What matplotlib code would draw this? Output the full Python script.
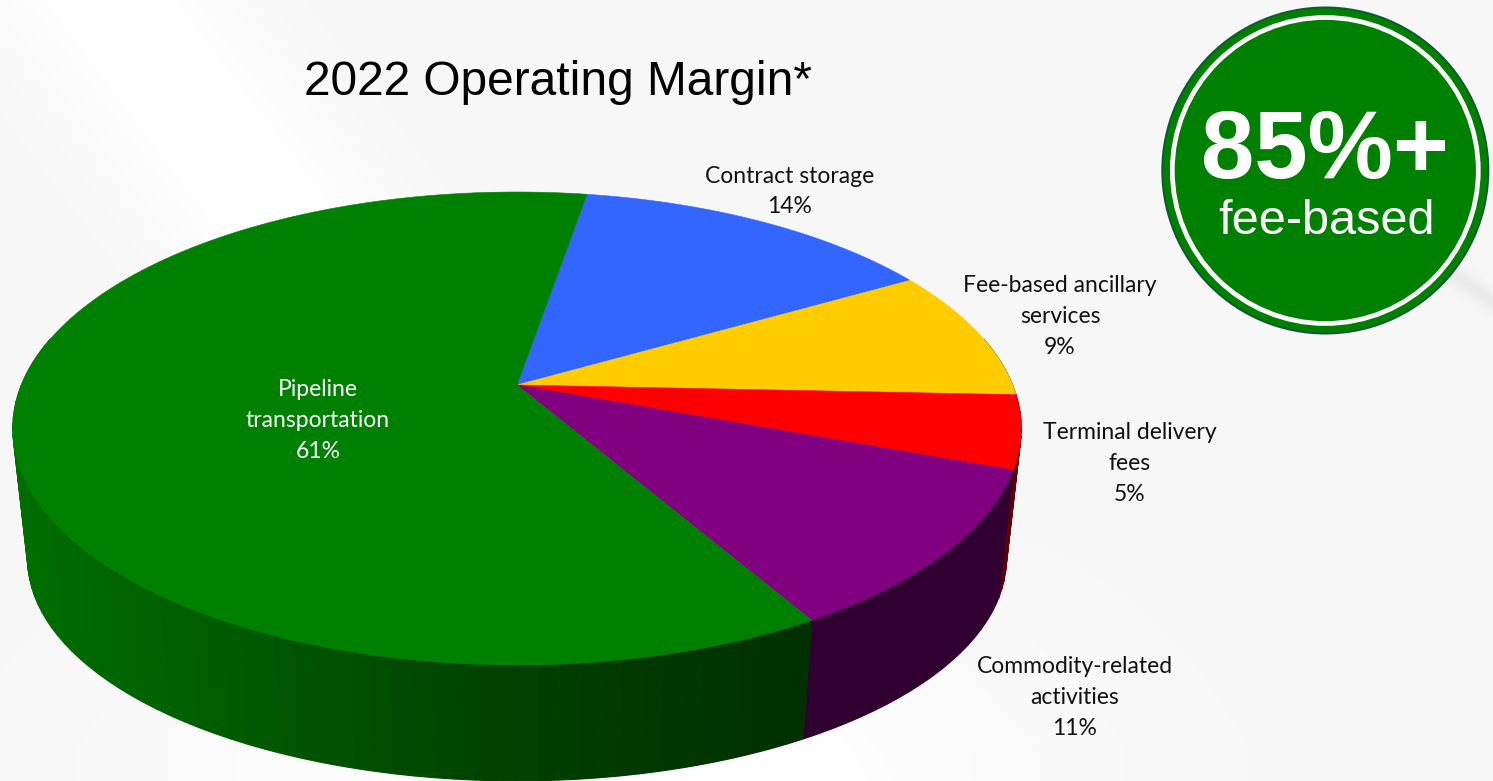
import numpy as np
import matplotlib
matplotlib.use('Agg')
import matplotlib.pyplot as plt
from matplotlib.patches import Circle, Polygon

# slice values, clockwise from the pipeline/storage edge
names = ["Contract storage", "Fee-based ancillary\nservices", "Terminal delivery\nfees",
         "Commodity-related\nactivities", "Pipeline\ntransportation"]
values = [14, 9, 5, 11, 61]
top_colors = ["#3366FF", "#FFCC00", "#FF0000", "#800080", "#008000"]
label_xy = [(790, 191.5), (1060, 316.5), (1130, 463.5), (1075, 697.5), (318, 420.5)]
label_colors = ["#111111", "#111111", "#111111", "#111111", "white"]

title = "2022 Operating Margin*"
badge_big = "85%+"
badge_small = "fee-based"

start_angle = 9.6
persp = 0.184  # perspective of the disc


# project unit disc angle (deg clockwise from the far side) to pixels
def ring(ang, cy, a, b):
    t = np.radians(ang)
    u, v = np.sin(t), np.cos(t)
    w = 1 + persp * v
    return 517 + a * u / w, cy - b * v / w


def top_ring(ang):
    return ring(ang, 385, 495.6, 228.5)


def low_ring(ang):
    return ring(ang, 518, 481, 214.5)


fig = plt.figure(figsize=(14.93, 7.81), dpi=100)
ax = fig.add_axes([0, 0, 1, 1])
ax.set_xlim(0, 1493)
ax.set_ylim(781, 0)
ax.axis('off')

# pale background with soft white bands
yy, xx = np.mgrid[0:781:4, 0:1493:4]
bg = 0.965 + 0.035 * np.exp(-((xx - 0.75 * yy - 110) / 130.0) ** 2)
bg = bg + 0.03 * np.clip((yy - 450) / 300.0, 0, 1) * np.exp(-((xx - 600) / 450.0) ** 2)
bg = bg - 0.05 * np.exp(-((yy - 0.7 * xx + 745) / 12.0) ** 2) * (xx > 1440)
bg = np.clip(bg, 0, 1)
ax.imshow(bg, cmap='gray', vmin=0, vmax=1, extent=[0, 1493, 781, 0], aspect='auto',
          interpolation='bilinear', zorder=0)

edges = start_angle + np.concatenate([[0], np.cumsum(values)]) * 3.6

# side wall, far pieces first
quads = []
for i in range(len(values)):
    angs = np.arange(edges[i], edges[i + 1], 2.0)
    angs = np.append(angs, edges[i + 1])
    for a0, a1 in zip(angs[:-1], angs[1:]):
        if np.cos(np.radians(a0)) > 0.2 and np.cos(np.radians(a1)) > 0.2:
            continue
        quads.append((i, a0, a1))
quads.sort(key=lambda q: -np.cos(np.radians((q[1] + q[2]) / 2)))

for i, a0, a1 in quads:
    mid = np.linspace(a0, a1, 8)
    xt, yt = top_ring(mid)
    xb, yb = low_ring(mid[::-1])
    shade = np.interp(xt.mean(), [15, 300, 500, 800], [0.86, 0.66, 0.51, 0.375])
    c = np.array(matplotlib.colors.to_rgb(top_colors[i])) * shade
    pts = list(zip(xt, yt)) + list(zip(xb, yb))
    ax.add_patch(Polygon(pts, closed=True, facecolor=c, edgecolor=c, lw=0.8, zorder=2))

# top face
for i in range(len(values)):
    angs = np.linspace(edges[i], edges[i + 1], 200)
    x, y = top_ring(angs)
    pts = [(517, 385)] + list(zip(x, y))
    ax.add_patch(Polygon(pts, closed=True, facecolor=top_colors[i], edgecolor=top_colors[i],
                         lw=0.4, zorder=3))

for i in range(len(values)):
    txt = "%s\n%d%%" % (names[i], values[i])
    ax.text(label_xy[i][0], label_xy[i][1], txt, ha='center', va='center', color=label_colors[i],
            family='Lato', fontsize=16.5, linespacing=1.57, zorder=5)

ax.text(558, 95, title, ha='center', va='baseline', family='Liberation Sans', fontsize=34.5, color='black', zorder=5)

# badge
ax.add_patch(Circle((1325.3, 170.5), 164, facecolor='#0B5B2E', edgecolor='none', zorder=4))
ax.add_patch(Circle((1325.3, 170.5), 162, facecolor='#008000', edgecolor='none', zorder=4))
ax.add_patch(Circle((1325.3, 170.5), 153, facecolor='none', edgecolor='white', lw=3.4, zorder=4))
ax.text(1325, 178, badge_big, ha='center', va='baseline', family='Liberation Sans', weight='bold',
        fontsize=69, color='white', zorder=5)
ax.text(1326.5, 234, badge_small, ha='center', va='baseline', family='Liberation Sans',
        fontsize=35, color='white', zorder=5)

fig.savefig('out.png', dpi=100)
